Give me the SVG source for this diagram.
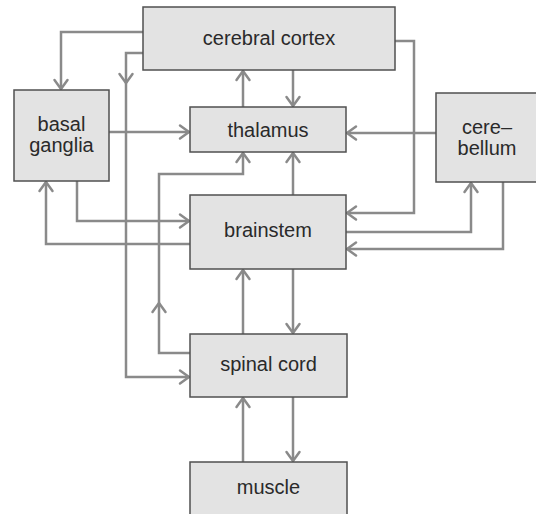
<svg xmlns="http://www.w3.org/2000/svg" width="536" height="514" viewBox="0 0 536 514">
<style>
.box{fill:#e3e3e3;stroke:#505050;stroke-width:1.5}
.lbl{font-family:"Liberation Sans",Arial,sans-serif;font-size:20px;fill:#2a2a2a;text-anchor:middle}
.c{fill:none;stroke:#8a8a8a;stroke-width:2.5;marker-end:url(#ah)}
</style>
<defs>
<marker id="ah" markerUnits="userSpaceOnUse" markerWidth="24" markerHeight="24" viewBox="-12 -12 24 24" refX="0" refY="0" orient="auto">
<path d="M-9,-6.5 L0,0 L-9,6.5" fill="none" stroke="#8a8a8a" stroke-width="2.5" stroke-linejoin="round" stroke-linecap="round"/>
</marker>
</defs>
<rect width="536" height="514" fill="#fff"/>
<g id="connectors">
<path class="c" d="M143,32 H61 V89"/>
<path class="c" d="M143,53 H126 V83"/>
<path class="c" d="M126,82 V377 H189"/>
<path class="c" d="M293,70 V106"/>
<path class="c" d="M243,107 V71"/>
<path class="c" d="M109,132 H189"/>
<path class="c" d="M436,133 H347"/>
<path class="c" d="M395,41 H414 V213 H347"/>
<path class="c" d="M346,232 H471 V183"/>
<path class="c" d="M503,182 V249 H347"/>
<path class="c" d="M293,195 V153"/>
<path class="c" d="M77,181 V221 H189"/>
<path class="c" d="M190,244 H46 V182"/>
<path class="c" d="M190,353 H159 V303"/>
<path class="c" d="M159,304 V174 H243 V153"/>
<path class="c" d="M243,334 V270"/>
<path class="c" d="M293,269 V333"/>
<path class="c" d="M243,462 V398"/>
<path class="c" d="M293,397 V461"/>
</g>
<g id="cerebral-cortex"><rect class="box" x="143" y="7" width="252" height="63"/><text class="lbl" x="269" y="45">cerebral cortex</text></g>
<g id="basal-ganglia"><rect class="box" x="14" y="90" width="95" height="91"/><text class="lbl" x="61.5" y="131">basal</text><text class="lbl" x="61.5" y="152">ganglia</text></g>
<g id="thalamus"><rect class="box" x="190" y="107" width="156" height="45"/><text class="lbl" x="268" y="137">thalamus</text></g>
<g id="cerebellum"><rect class="box" x="436" y="93" width="104" height="89"/><text class="lbl" x="487" y="134">cere–</text><text class="lbl" x="487" y="155">bellum</text></g>
<g id="brainstem"><rect class="box" x="190" y="195" width="156" height="74"/><text class="lbl" x="268" y="237">brainstem</text></g>
<g id="spinal-cord"><rect class="box" x="190" y="334" width="157" height="63"/><text class="lbl" x="268.5" y="371">spinal cord</text></g>
<g id="muscle"><rect class="box" x="190" y="462" width="157" height="58"/><text class="lbl" x="268.5" y="494">muscle</text></g>
</svg>
